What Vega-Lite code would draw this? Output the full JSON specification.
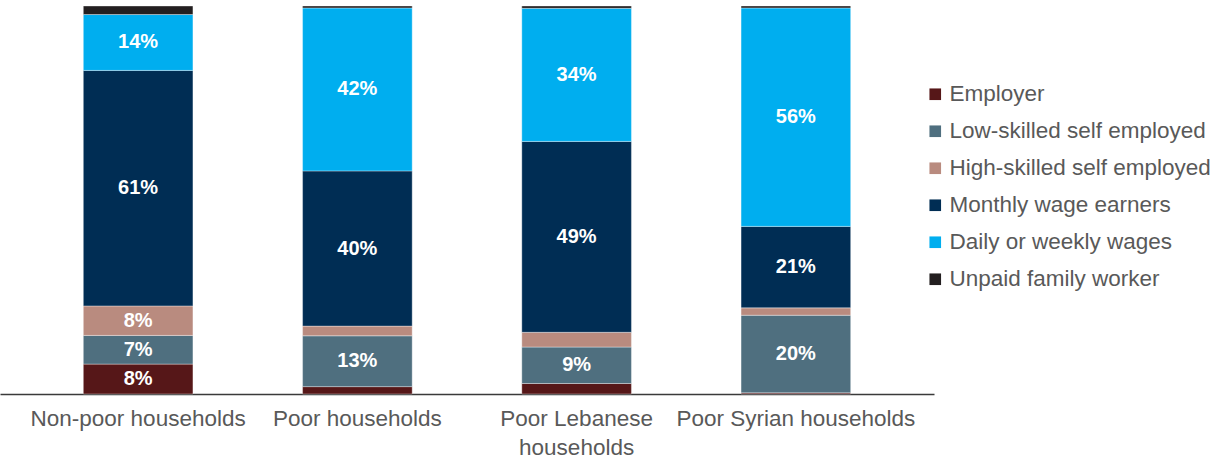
{
  "$schema": "https://vega.github.io/schema/vega-lite/v6.json",
  "width": 934,
  "height": 388,
  "padding": {"left": 0, "top": 5, "right": 0, "bottom": 0},
  "background": "white",
  "config": {"view": {"stroke": null}, "font": "Liberation Sans"},
  "data": {
    "values": [
      {"group": "Non-poor households", "type": "Employer", "share": 0.077},
      {"group": "Non-poor households", "type": "Low-skilled self employed", "share": 0.074},
      {"group": "Non-poor households", "type": "High-skilled self employed", "share": 0.076},
      {"group": "Non-poor households", "type": "Monthly wage earners", "share": 0.607},
      {"group": "Non-poor households", "type": "Daily or weekly wages", "share": 0.144},
      {"group": "Non-poor households", "type": "Unpaid family worker", "share": 0.022},
      {"group": "Poor households", "type": "Employer", "share": 0.019},
      {"group": "Poor households", "type": "Low-skilled self employed", "share": 0.131},
      {"group": "Poor households", "type": "High-skilled self employed", "share": 0.025},
      {"group": "Poor households", "type": "Monthly wage earners", "share": 0.400},
      {"group": "Poor households", "type": "Daily or weekly wages", "share": 0.420},
      {"group": "Poor households", "type": "Unpaid family worker", "share": 0.005},
      {"group": "Poor Lebanese households", "type": "Employer", "share": 0.027},
      {"group": "Poor Lebanese households", "type": "Low-skilled self employed", "share": 0.094},
      {"group": "Poor Lebanese households", "type": "High-skilled self employed", "share": 0.038},
      {"group": "Poor Lebanese households", "type": "Monthly wage earners", "share": 0.492},
      {"group": "Poor Lebanese households", "type": "Daily or weekly wages", "share": 0.343},
      {"group": "Poor Lebanese households", "type": "Unpaid family worker", "share": 0.006},
      {"group": "Poor Syrian households", "type": "Employer", "share": 0.003},
      {"group": "Poor Syrian households", "type": "Low-skilled self employed", "share": 0.200},
      {"group": "Poor Syrian households", "type": "High-skilled self employed", "share": 0.019},
      {"group": "Poor Syrian households", "type": "Monthly wage earners", "share": 0.210},
      {"group": "Poor Syrian households", "type": "Daily or weekly wages", "share": 0.563},
      {"group": "Poor Syrian households", "type": "Unpaid family worker", "share": 0.005}
    ]
  },
  "transform": [
    {"stack": "share", "groupby": ["group"], "as": ["y0", "y1"]}
  ],
  "encoding": {
    "x": {
      "field": "group",
      "type": "nominal",
      "sort": ["Non-poor households", "Poor households", "Poor Lebanese households", "Poor Syrian households"],
      "scale": {"paddingInner": 0.5, "paddingOuter": 0.38},
      "axis": {
        "title": null,
        "labelAngle": 0,
        "ticks": false,
        "domainColor": "#3a3a3a",
        "domainWidth": 1.5,
        "labelFontSize": 22.5,
        "labelColor": "#595959",
        "labelPadding": 13,
        "labelLineHeight": 29,
        "labelLimit": 400,
        "labelExpr": "datum.value == 'Poor Lebanese households' ? ['Poor Lebanese', 'households'] : datum.value"
      }
    }
  },
  "layer": [
    {
      "mark": {"type": "bar", "stroke": "white", "strokeWidth": 0.6, "strokeOpacity": 0.6},
      "encoding": {
        "y": {"field": "y1", "type": "quantitative", "scale": {"domain": [0, 1]}, "axis": null},
        "y2": {"field": "y0"},
        "color": {
          "field": "type",
          "type": "nominal",
          "scale": {
            "domain": ["Employer", "Low-skilled self employed", "High-skilled self employed", "Monthly wage earners", "Daily or weekly wages", "Unpaid family worker"],
            "range": ["#561718", "#4f6f7f", "#b98b7f", "#002d54", "#00aeef", "#231f20"]
          },
          "legend": {
            "title": null,
            "orient": "none",
            "legendX": 924,
            "legendY": 77,
            "symbolType": "square",
            "symbolSize": 135,
            "symbolStrokeWidth": 0,
            "labelFontSize": 22.5,
            "labelColor": "#595959",
            "labelOffset": 3,
            "rowPadding": 14,
            "labelLimit": 400
          }
        }
      }
    },
    {
      "transform": [
        {"filter": "datum.share >= 0.05"},
        {"calculate": "(datum.y0 + datum.y1) / 2", "as": "mid"}
      ],
      "mark": {"type": "text", "color": "white", "fontWeight": "bold", "fontSize": 20, "align": "center", "baseline": "middle"},
      "encoding": {
        "y": {"field": "mid", "type": "quantitative", "scale": {"domain": [0, 1]}},
        "text": {"field": "share", "type": "quantitative", "format": ".0%"}
      }
    }
  ]
}
